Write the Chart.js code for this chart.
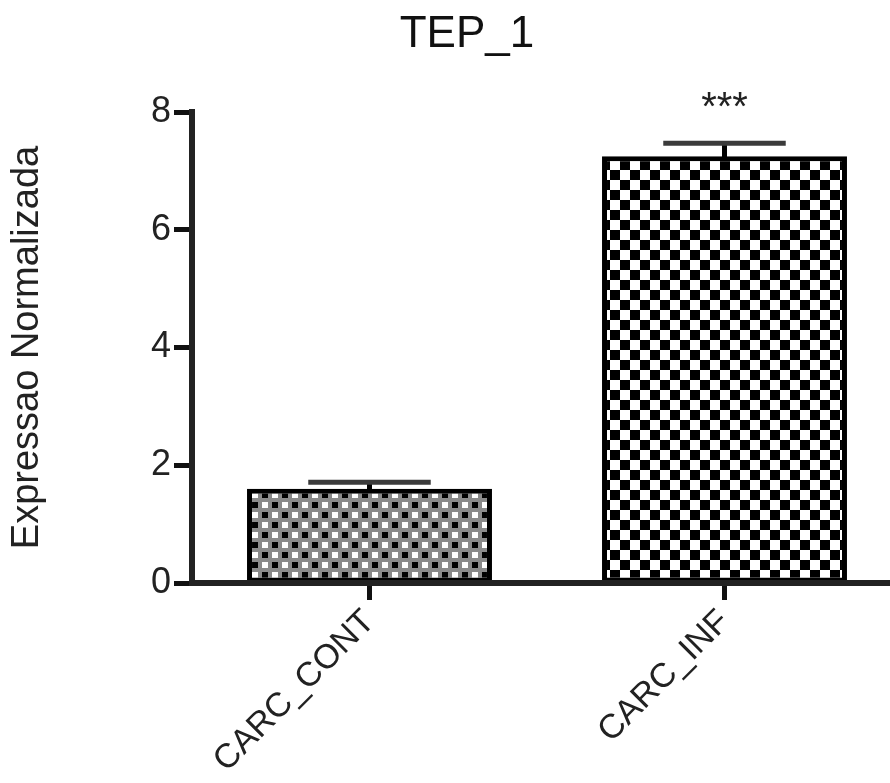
<!DOCTYPE html>
<html><head><meta charset="utf-8">
<script src="https://cdn.jsdelivr.net/npm/chart.js@4"></script>
<style>html,body{margin:0;padding:0;overflow:hidden;background:#fff;width:890px;height:783px}canvas{display:block}</style>
</head><body>
<canvas id="c" width="912" height="783"></canvas>
<script>
const categories = ['CARC_CONT', 'CARC_INF'];
const means = [1.60, 7.25];
const errors = [0.11, 0.22];
const significance = ['', '***'];
const yTicks = [0, 2, 4, 6, 8];
const chartTitle = 'TEP_1';
const yTitle = 'Expressao Normalizada';

const FONT = "'Liberation Sans', Arial, sans-serif";
const canvas = document.getElementById('c');
const ctx0 = canvas.getContext('2d');

function makePattern(size, draw) {
  const c = document.createElement('canvas');
  c.width = size; c.height = size;
  const g = c.getContext('2d');
  draw(g);
  return ctx0.createPattern(c, 'repeat');
}
// fine gray grid with black/white dots
const patFine = makePattern(20, g => {
  g.fillStyle = '#8a8a8a'; g.fillRect(0, 0, 20, 20);
  g.fillStyle = '#fff'; g.fillRect(2, 2, 6, 6); g.fillRect(12, 12, 6, 6);
  g.fillStyle = '#000'; g.fillRect(12, 2, 6, 6); g.fillRect(2, 12, 6, 6);
});
// black/white checkerboard
const patCheck = makePattern(20, g => {
  g.fillStyle = '#fff'; g.fillRect(0, 0, 20, 20);
  g.fillStyle = '#000'; g.fillRect(0, 0, 10, 10); g.fillRect(10, 10, 10, 10);
});

const errPlugin = {
  id: 'errbars',
  afterDatasetsDraw(chart) {
    const {ctx, scales: {y}} = chart;
    const meta = chart.getDatasetMeta(0);
    meta.data.forEach((bar, i) => {
      const xc = bar.x;
      const yTop = y.getPixelForValue(means[i] + errors[i]);
      const yVal = y.getPixelForValue(means[i]);
      const half = bar.width / 4;
      ctx.save();
      ctx.lineCap = 'butt';
      ctx.strokeStyle = '#000'; ctx.lineWidth = 5;
      ctx.beginPath(); ctx.moveTo(xc, yTop); ctx.lineTo(xc, yVal + 3); ctx.stroke();
      ctx.strokeStyle = '#3a3a3a'; ctx.lineWidth = 5;
      ctx.beginPath(); ctx.moveTo(xc - half, yTop); ctx.lineTo(xc + half, yTop); ctx.stroke();
      if (significance[i]) {
        ctx.fillStyle = '#222';
        ctx.font = '40px ' + FONT;
        ctx.textAlign = 'center';
        ctx.textBaseline = 'alphabetic';
        ctx.fillText(significance[i], xc, yTop + 0 - 23);
      }
      ctx.restore();
    });
  }
};

new Chart(canvas, {
  type: 'bar',
  data: {
    labels: categories,
    datasets: [{
      data: means,
      backgroundColor: [patFine, patCheck],
      borderColor: '#000',
      borderWidth: 5,
      borderSkipped: false,
      barPercentage: 0.69,
      categoryPercentage: 1
    }]
  },
  options: {
    responsive: false,
    animation: false,
    devicePixelRatio: 1,
    layout: {padding: {left: 32, right: 10, top: 0, bottom: 0}},
    plugins: {
      legend: {display: false},
      tooltip: {enabled: false},
      title: {
        display: true, text: chartTitle, color: '#111',
        font: {family: FONT, size: 44, weight: 'normal'},
        padding: {top: 8, bottom: 51.2}
      }
    },
    scales: {
      x: {
        offset: true,
        grid: {display: true, drawOnChartArea: false, offset: false, tickLength: 17, tickWidth: 5, tickColor: '#111'},
        border: {display: true, width: 6, color: '#222', z: 1},
        ticks: {font: {family: FONT, size: 34}, color: '#222', minRotation: 45, maxRotation: 45, autoSkip: false, padding: 2},
        afterFit(s) { s.height = 200; }
      },
      y: {
        min: 0, max: 8,
        afterBuildTicks(s) { s.ticks = yTicks.map(v => ({value: v})); },
        grid: {display: true, drawOnChartArea: false, tickLength: 18, tickWidth: 5, tickColor: '#111'},
        border: {display: true, width: 6, color: '#222', z: 1},
        ticks: {font: {family: FONT, size: 36}, color: '#222', padding: 3},
        title: {display: true, text: yTitle, color: '#222', font: {family: FONT, size: 38}, padding: {top: -27, bottom: 0}},
        afterFit(s) { s.width = 160; }
      }
    }
  },
  plugins: [errPlugin]
});
</script>
</body></html>
